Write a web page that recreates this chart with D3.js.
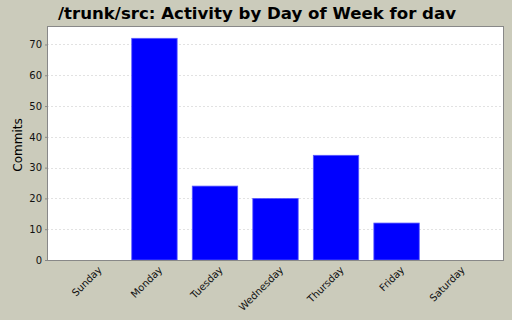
<!DOCTYPE html>
<html>
<head>
<meta charset="utf-8">
<script src="https://d3js.org/d3.v7.min.js"></script>
<style>
    body { margin: 0; background: #cbcbbb; }
    svg { display: block; }
</style>
</head>
<body>
<div id="chart"></div>
<script>
    // data
    let days = ["Sunday", "Monday", "Tuesday", "Wednesday", "Thursday", "Friday", "Saturday"];
    let commits = [0, 72, 24, 20, 34, 12, 0];
    let yTicks = [0, 10, 20, 30, 40, 50, 60, 70];

    const width = 512, height = 320;
    const plotLeft = 47, plotRight = 504, plotTop = 26, plotBottom = 260;

    let svg = d3.select("#chart")
        .append("svg")
        .attr("width", width)
        .attr("height", height)
        .style("font-family", "'DejaVu Sans', sans-serif");

    svg.append("rect")
        .attr("width", width)
        .attr("height", height)
        .attr("fill", "#cbcbbb");

    // title
    svg.append("text")
        .attr("x", 257)
        .attr("y", 19)
        .attr("text-anchor", "middle")
        .attr("font-size", "16.6px")
        .attr("font-weight", "bold")
        .attr("fill", "#000")
        .text("/trunk/src: Activity by Day of Week for dav");

    let x = d3.scaleBand()
        .domain(days)
        .range([plotLeft, plotRight])
        .paddingInner(0.25)
        .paddingOuter(0.4);

    let y = d3.scaleLinear()
        .domain([0, 76])
        .range([plotBottom, plotTop]);

    // plot background
    svg.append("rect")
        .attr("x", plotLeft)
        .attr("y", plotTop)
        .attr("width", plotRight - plotLeft)
        .attr("height", plotBottom - plotTop)
        .attr("fill", "white");

    // grid lines
    svg.append("g")
        .selectAll("line")
        .data(yTicks.filter(d => d > 0))
        .join("line")
        .attr("x1", plotLeft)
        .attr("x2", plotRight)
        .attr("y1", d => Math.round(y(d)) + 0.5)
        .attr("y2", d => Math.round(y(d)) + 0.5)
        .attr("stroke", "#e2e2e2")
        .attr("stroke-dasharray", "2,2");

    // bars
    svg.append("g")
        .selectAll("rect")
        .data(days.map((d, i) => ({ day: d, value: commits[i] })).filter(d => d.value > 0))
        .join("rect")
        .attr("x", d => x(d.day))
        .attr("y", d => y(d.value))
        .attr("width", x.bandwidth())
        .attr("height", d => plotBottom - y(d.value))
        .attr("fill", "#0000ff")
        .attr("stroke", "#5a5aff")
        .attr("stroke-width", 0.8);

    // plot border
    svg.append("rect")
        .attr("x", plotLeft + 0.5)
        .attr("y", plotTop + 0.5)
        .attr("width", plotRight - plotLeft - 1)
        .attr("height", plotBottom - plotTop)
        .attr("fill", "none")
        .attr("stroke", "#888");

    // y axis
    let yAxis = d3.axisLeft(y)
        .tickValues(yTicks)
        .tickSize(2)
        .tickPadding(3);

    let gy = svg.append("g")
        .attr("transform", `translate(${plotLeft},0)`)
        .call(yAxis);
    gy.select(".domain").remove();
    gy.selectAll("line").attr("stroke", "#888");
    gy.selectAll("text")
        .attr("font-size", "10px")
        .attr("font-family", "'DejaVu Sans', sans-serif")
        .attr("fill", "#111");

    svg.append("text")
        .attr("transform", `translate(22,${(plotTop + plotBottom) / 2 + 2}) rotate(-90)`)
        .attr("text-anchor", "middle")
        .attr("font-size", "12px")
        .attr("fill", "#000")
        .text("Commits");

    // x axis
    let xAxis = d3.axisBottom(x)
        .tickSize(0)
        .tickPadding(0);

    let gx = svg.append("g")
        .attr("transform", `translate(0,${plotBottom})`)
        .call(xAxis);
    gx.select(".domain").remove();
    gx.selectAll("text")
        .attr("font-size", "10px")
        .attr("font-family", "'DejaVu Sans', sans-serif")
        .attr("fill", "#111")
        .attr("text-anchor", "end")
        .attr("dy", "0.35em")
        .attr("transform", "translate(6,8) rotate(-45)");
</script>
</body>
</html>
